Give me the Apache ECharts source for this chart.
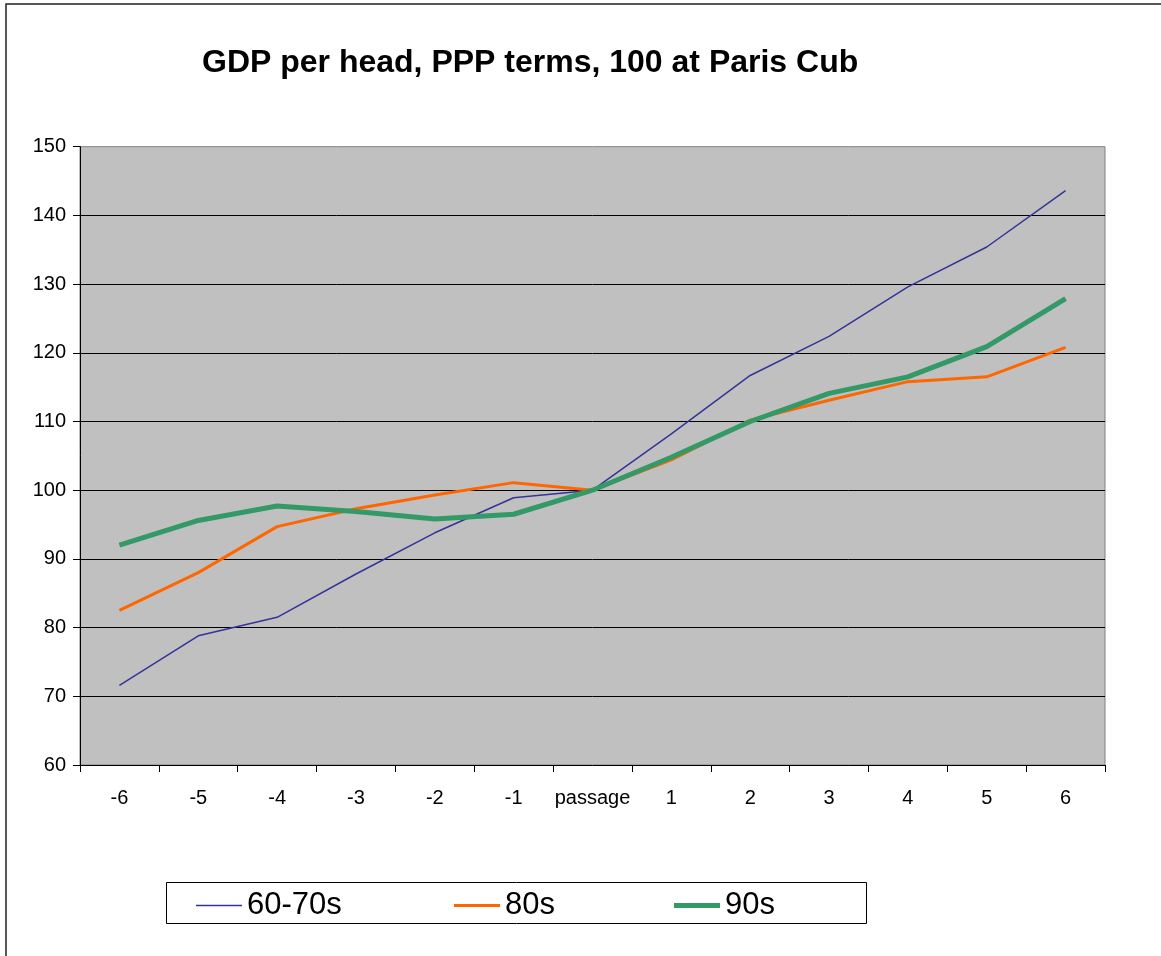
<!DOCTYPE html>
<html>
<head>
<meta charset="utf-8">
<script src="https://cdn.jsdelivr.net/npm/echarts@6/dist/echarts.min.js"></script>
<style>
html,body{margin:0;padding:0;background:#fff;}
#chart{width:1161px;height:956px;}
</style>
</head>
<body>
<div id="chart"></div>
<script>
const categories = ['-6','-5','-4','-3','-2','-1','passage','1','2','3','4','5','6'];
const s6070 = [71.6, 78.8, 81.5, 87.8, 93.8, 98.9, 100, 108.2, 116.7, 122.4, 129.6, 135.4, 143.6];
const s80   = [82.5, 88.0, 94.7, 97.3, 99.3, 101.1, 100, 104.4, 110.2, 113.1, 115.8, 116.5, 120.8];
const s90   = [92.0, 95.6, 97.7, 96.9, 95.8, 96.5, 100, 104.8, 110.0, 114.1, 116.5, 120.9, 127.9];
const yTicks = {min: 60, max: 150, interval: 10};

const FONT = "'Liberation Sans', Arial, sans-serif";
const chart = echarts.init(document.getElementById('chart'), null, {renderer: 'canvas'});

function legendFor(name, left, h) {
  return {
    data: [{name: name, icon: 'rect'}], left: left, top: 890, padding: 0,
    itemWidth: 46, itemHeight: h, itemGap: 0,
    textStyle: {fontFamily: FONT, fontSize: 31, color: '#000', padding: [0,0,0,0]},
    selectedMode: false
  };
}

chart.setOption({
  animation: false,
  backgroundColor: '#fff',
  title: {
    text: 'GDP per head, PPP terms, 100 at Paris Cub',
    left: 202, top: 47, padding: 0,
    textStyle: {fontFamily: FONT, fontSize: 32, fontWeight: 'bold', color: '#000'}
  },
  graphic: [
    {type: 'rect', shape: {x: 6, y: 4, width: 1300, height: 1100}, style: {fill: 'none', stroke: '#222', lineWidth: 1.5}, z: 100},
    {type: 'rect', shape: {x: 166.5, y: 882.5, width: 700, height: 41}, style: {fill: '#fff', stroke: '#000', lineWidth: 1}, z: -1}
  ],
  legend: [legendFor('60-70s', 196, 1.5), legendFor('80s', 454, 3), legendFor('90s', 674, 5)],
  grid: {
    left: 80, right: 56, top: 146.7, bottom: 191, containLabel: false,
    show: true, backgroundColor: '#C0C0C0', borderColor: '#808080', borderWidth: 1
  },
  xAxis: {
    type: 'category', data: categories, boundaryGap: true,
    axisLine: {lineStyle: {color: '#000', width: 1}},
    axisTick: {show: true, length: 7, alignWithLabel: false, lineStyle: {color: '#000'}},
    axisLabel: {fontFamily: FONT, fontSize: 20, color: '#000', margin: 23, interval: 0},
    splitLine: {show: false}
  },
  yAxis: {
    type: 'value', min: yTicks.min, max: yTicks.max, interval: yTicks.interval,
    axisLine: {show: true, lineStyle: {color: '#000', width: 1}},
    axisTick: {show: true, length: 7, lineStyle: {color: '#000'}},
    axisLabel: {fontFamily: FONT, fontSize: 20, color: '#000', margin: 14},
    splitLine: {show: true, showMinLine: false, showMaxLine: false, lineStyle: {color: '#000', width: 1}}
  },
  series: [
    {name: '60-70s', type: 'line', data: s6070, symbol: 'none', lineStyle: {color: '#333399', width: 1.5}, itemStyle: {color: '#333399'}, z: 3},
    {name: '80s', type: 'line', data: s80, symbol: 'none', lineStyle: {color: '#FF6600', width: 3}, itemStyle: {color: '#FF6600'}, z: 4},
    {name: '90s', type: 'line', data: s90, symbol: 'none', lineStyle: {color: '#339966', width: 5}, itemStyle: {color: '#339966'}, z: 5}
  ]
});
</script>
</body>
</html>
